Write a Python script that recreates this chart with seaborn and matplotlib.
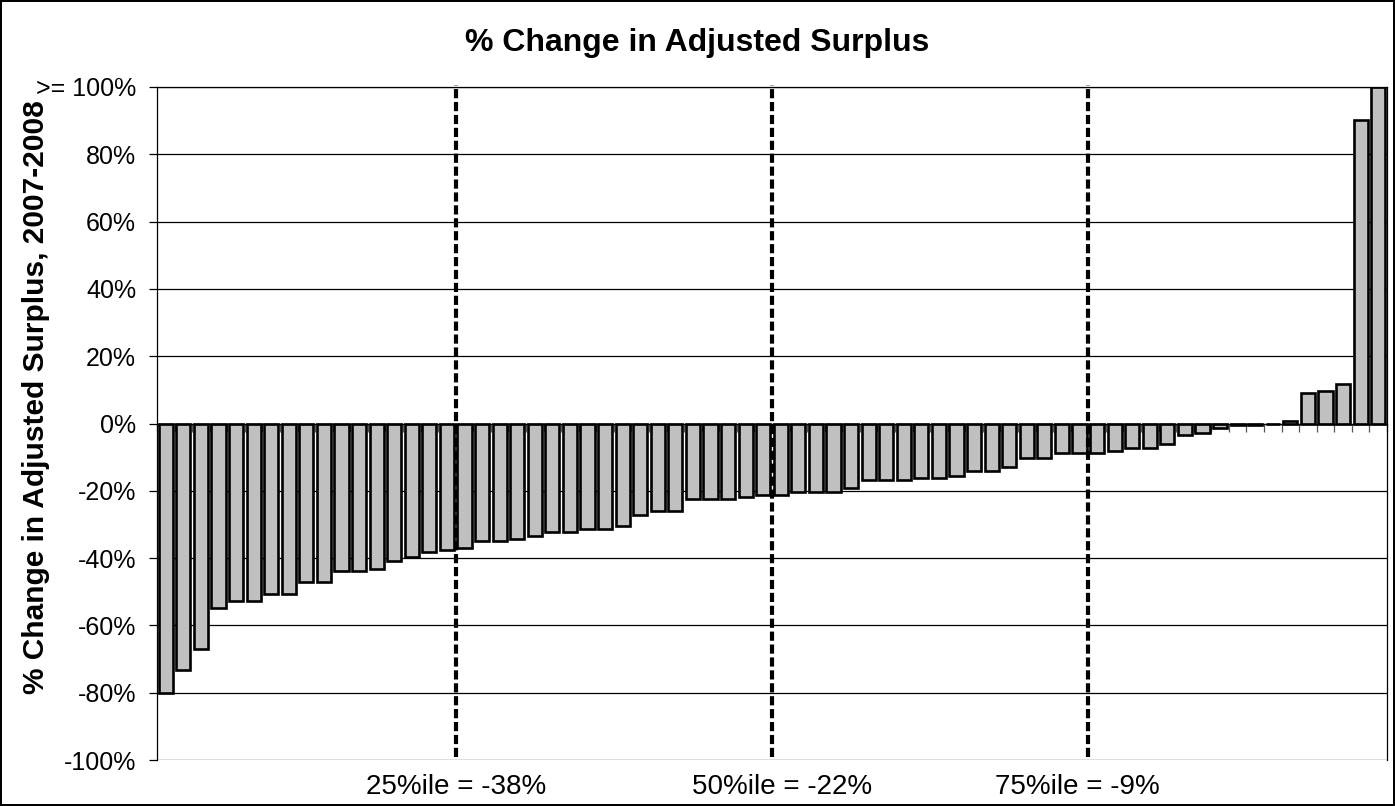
import numpy as np
import pandas as pd
import seaborn as sns
from matplotlib import pyplot as plt
from matplotlib import transforms

# % change in adjusted surplus 2007-2008, sorted (values capped at 100%)
pct_change = [
    -80.0, -73.3, -67.0, -54.7, -52.7, -52.7, -50.6, -50.6, -47.0, -47.0,
    -43.7, -43.7, -43.1, -41.0, -39.6, -38.3, -37.6, -37.0, -34.8, -34.8,
    -34.2, -33.5, -32.1, -32.1, -31.3, -31.3, -30.6, -27.2, -25.9, -25.9,
    -22.5, -22.5, -22.5, -21.8, -21.1, -21.1, -20.5, -20.5, -20.5, -19.3,
    -16.8, -16.8, -16.8, -16.3, -16.3, -15.6, -14.1, -14.1, -12.9, -10.2,
    -10.2, -8.8, -8.8, -8.8, -8.2, -7.4, -7.4, -6.1, -3.3, -2.7,
    -1.3, -0.5, -0.4, 0.0, 0.6, 9.1, 9.7, 11.8, 90.3, 100.0,
]

# quartile markers: number of bars to the left of each line, and the label
quartile_counts = [17, 35, 53]
quartile_labels = ['25%ile = -38%', '50%ile = -22%', '75%ile = -9%']
label_shift = [0.0, 0.6, -0.6]

y_ticks = [-100, -80, -60, -40, -20, 0, 20, 40, 60, 80, 100]
y_tick_labels = ['-100%', '-80%', '-60%', '-40%', '-20%', '0%',
                 '20%', '40%', '60%', '80%', '>= 100%']

df = pd.DataFrame({'rank': np.arange(len(pct_change)), 'pct': pct_change})

sns.set_theme(style='white')
plt.rcParams['font.family'] = ['Liberation Sans', 'DejaVu Sans']

fig = plt.figure(figsize=(13.95, 8.06), dpi=100)
fig.patch.set_edgecolor('black')
fig.patch.set_linewidth(1.5)
ax = fig.add_axes([157 / 1395, 1 - 760 / 806, 1230 / 1395, 673 / 806])

sns.barplot(data=df, x='rank', y='pct', color='#C0C0C0', saturation=1,
            edgecolor='black', linewidth=1.9, width=0.8, ax=ax, zorder=2)

n = len(pct_change)
ax.set_xlim(-0.5, n - 0.5)
ax.set_ylim(-100, 100)
ax.set_xlabel('')
ax.set_ylabel('')

ax.set_yticks(y_ticks)
ax.set_yticklabels(y_tick_labels, fontsize=18, color='black')
ax.set_xticks(np.arange(n + 1) - 0.5)
ax.set_xticklabels([])
ax.tick_params(axis='y', direction='out', length=6, width=0.9, color='black',
               pad=9, left=True)
ax.tick_params(axis='x', direction='out', length=6, width=0.9, color='#555555',
               bottom=True)

ax.set_axisbelow(True)
ax.yaxis.grid(True, color='black', linewidth=0.9)
ax.xaxis.grid(False)
for side in ['left', 'right', 'top']:
    ax.spines[side].set_color('black')
    ax.spines[side].set_linewidth(0.9)
ax.spines['bottom'].set_position(('data', 0))
ax.spines['bottom'].set_color('black')
ax.spines['bottom'].set_linewidth(0.9)

for c in quartile_counts:
    ax.vlines(c - 0.5, -99, 100.5, colors='black', linewidth=3.0,
              linestyles=(0, (2.2, 0.9)), zorder=3, clip_on=False)

trans = transforms.blended_transform_factory(ax.transData, fig.transFigure)
for c, lab, dx in zip(quartile_counts, quartile_labels, label_shift):
    fig.text(c - 0.5 + dx, 1 - 787 / 806, lab, transform=trans,
             ha='center', va='center', fontsize=20, color='black')

fig.text(0.5, 1 - 43 / 806, '% Change in Adjusted Surplus', ha='center',
         va='center', fontsize=23, fontweight='bold', color='black')
fig.text(36 / 1395, 1 - 397 / 806, '% Change in Adjusted Surplus, 2007-2008',
         rotation=90, ha='center', va='center', fontsize=21.5, fontweight='bold',
         color='black')

fig.savefig('out.png', dpi=100)
